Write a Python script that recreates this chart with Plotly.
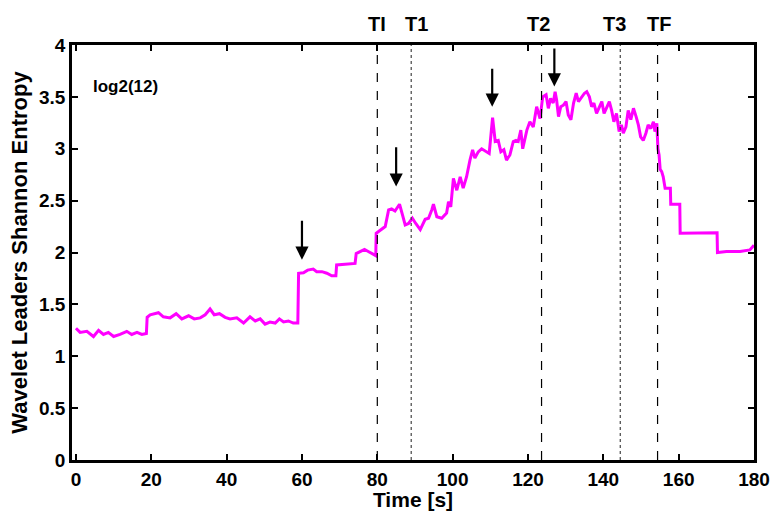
import plotly.graph_objects as go

# ---- data ----
time_s = [0, 1.1, 2.9, 4.65, 6.0, 7.3, 8.6, 10.0, 11.7, 13.5, 14.8, 16.2, 17.5, 18.7, 18.9,
          19.7, 21.9, 23.2, 25.0, 26.6, 28.1, 29.9, 31.4, 33.0, 34.3, 35.6, 36.7, 38.1, 39.6,
          40.9, 42.7, 44.5, 46.2, 47.6, 48.9, 50.2, 51.5, 52.9, 54.0, 55.1, 56.4, 57.7, 58.9,
          59.1, 60.4, 61.5, 63.0, 63.9, 65.3, 66.6, 67.9, 69.0, 69.2, 70.6, 72.3, 74.1, 74.4,
          75.4, 76.6, 77.6, 79.0, 79.6, 79.7, 80.7, 82.1, 83.0, 83.8, 84.7, 85.9, 86.7, 87.4,
          88.3, 89.3, 90.2, 91.4, 92.7, 93.6, 94.5, 94.9, 95.8, 97.1, 98.4, 98.9, 99.5, 100.2,
          101.1, 102.0, 102.8, 103.7, 104.6, 105.3, 105.9, 106.8, 107.7, 109.0, 109.7, 110.6,
          111.3, 112.1, 112.8, 113.6, 114.3, 115.2, 116.1, 116.8, 117.4, 118.1, 118.6, 119.7,
          120.5, 121.4, 122.3, 123.2, 123.9, 124.8, 125.4, 126.0, 126.7, 127.2, 127.6, 128.1,
          128.7, 129.4, 130.1, 130.7, 131.4, 132.1, 132.8, 133.4, 134.3, 135.0, 135.6, 136.3,
          136.9, 137.5, 138.2, 138.9, 139.6, 140.2, 140.9, 141.6, 142.2, 142.8, 143.5, 144.2,
          144.8, 145.3, 146.0, 146.6, 147.3, 148.0, 148.7, 149.3, 149.9, 150.6, 151.3, 151.9,
          152.6, 153.3, 153.7, 154.2, 154.5, 154.8, 155.1, 155.5, 155.9, 156.4, 157.8, 157.9,
          160.3, 160.4, 170.2, 170.3, 172.7, 176.3, 178.9, 180.0]
entropy = [1.27, 1.23, 1.24, 1.19, 1.25, 1.21, 1.23, 1.19, 1.21, 1.24, 1.21, 1.23, 1.21, 1.22, 1.375,
           1.40, 1.42, 1.38, 1.37, 1.41, 1.36, 1.39, 1.36, 1.37, 1.40, 1.455, 1.40, 1.41, 1.375,
           1.36, 1.37, 1.32, 1.38, 1.34, 1.36, 1.31, 1.33, 1.32, 1.36, 1.33, 1.34, 1.32, 1.32,
           1.80, 1.805, 1.83, 1.84, 1.815, 1.815, 1.80, 1.775, 1.775, 1.88, 1.885, 1.89, 1.895, 1.99,
           2.01, 2.03, 2.01, 1.98, 1.97, 2.185, 2.21, 2.25, 2.41, 2.42, 2.40, 2.465, 2.36, 2.265,
           2.28, 2.33, 2.28, 2.22, 2.32, 2.33, 2.415, 2.465, 2.345, 2.33, 2.38, 2.49, 2.44, 2.715,
           2.60, 2.73, 2.62, 2.73, 2.89, 2.99, 2.91, 2.97, 3.00, 2.97, 2.955, 3.30,
           3.07, 3.08, 2.97, 2.99, 2.89, 2.94, 3.07, 3.08, 3.07, 3.18, 3.00, 3.18,
           3.26, 3.21, 3.405, 3.29, 3.50, 3.52, 3.39, 3.485, 3.44, 3.55, 3.47, 3.31,
           3.405, 3.42, 3.455, 3.325, 3.28, 3.44, 3.535, 3.455, 3.50, 3.535, 3.55, 3.50,
           3.405, 3.44, 3.34, 3.405, 3.455, 3.34, 3.405, 3.455, 3.37, 3.26, 3.34, 3.165,
           3.23, 3.15, 3.21, 3.37, 3.28, 3.39, 3.31, 3.23, 3.115, 3.08, 3.15, 3.23,
           3.195, 3.26, 3.165, 3.245, 3.00, 2.94, 2.80, 2.78, 2.73, 2.62, 2.62, 2.465,
           2.465, 2.185, 2.19, 2.00, 2.01, 2.01, 2.025, 2.07]

event_times = [80, 89, 123.6, 144.5, 154.4]
event_styles = ["dash", "dot", "dash", "dot", "dash"]
event_labels = ["TI", "T1", "T2", "T3", "TF"]
event_label_x = [80.0, 90.5, 122.9, 143.0, 154.9]

arrow_x = [60, 85, 110.5, 127]
arrow_tail = [2.32, 3.03, 3.785, 3.98]
arrow_tip = [1.93, 2.635, 3.405, 3.60]

x_ticks = list(range(0, 181, 20))
y_ticks = [0, 0.5, 1, 1.5, 2, 2.5, 3, 3.5, 4]

FONT = "Liberation Sans, Arial, Helvetica, sans-serif"

fig = go.Figure()
fig.add_trace(go.Scatter(x=time_s, y=entropy, mode="lines",
                         line=dict(color="#FF00FF", width=3), showlegend=False))

shapes = []
for t, st in zip(event_times, event_styles):
    shapes.append(dict(type="line", xref="x", yref="y", x0=t, x1=t, y0=0, y1=4,
                       line=dict(color="black" if st == "dash" else "#444444",
                                 width=1.2, dash=st)))

annotations = []
for lab, lx in zip(event_labels, event_label_x):
    annotations.append(dict(x=lx, y=1.0, xref="x", yref="paper", yanchor="bottom",
                            yshift=8, text=lab, showarrow=False,
                            font=dict(family=FONT, size=20, color="black", weight="bold")))
for ax_, tl, tp in zip(arrow_x, arrow_tail, arrow_tip):
    annotations.append(dict(x=ax_, y=tp, ax=ax_, ay=tl, xref="x", yref="y",
                            axref="x", ayref="y", text="", showarrow=True,
                            arrowhead=2, arrowsize=1.2, arrowwidth=2.2,
                            arrowcolor="black", standoff=0, startstandoff=0))
annotations.append(dict(x=3.9, y=3.6, xref="x", yref="y", xanchor="left",
                        text="log2(12)", showarrow=False,
                        font=dict(family=FONT, size=17, color="black", weight="bold")))

axis_common = dict(showgrid=False, zeroline=False, showline=True, linecolor="black",
                   linewidth=2.5, mirror="ticks", ticks="inside", ticklen=6,
                   tickwidth=1.5, tickcolor="black", automargin=False,
                   tickfont=dict(family=FONT, size=19, color="black", weight="bold"))

fig.update_layout(
    width=773, height=511,
    margin=dict(l=72, r=19, t=45, b=51),
    paper_bgcolor="white", plot_bgcolor="white",
    shapes=shapes, annotations=annotations,
    xaxis=dict(range=[-1.05, 180], tickvals=x_ticks, ticktext=[str(v) for v in x_ticks],
               title=dict(text="Time [s]", standoff=3,
                          font=dict(family=FONT, size=21, color="black", weight="bold")),
               **axis_common),
    yaxis=dict(range=[0, 4], tickvals=y_ticks, ticktext=[("%g" % v) for v in y_ticks],
               title=dict(text="Wavelet Leaders Shannon Entropy", standoff=6,
                          font=dict(family=FONT, size=22, color="black", weight="bold")),
               **axis_common),
)

fig.write_html("out.html")
